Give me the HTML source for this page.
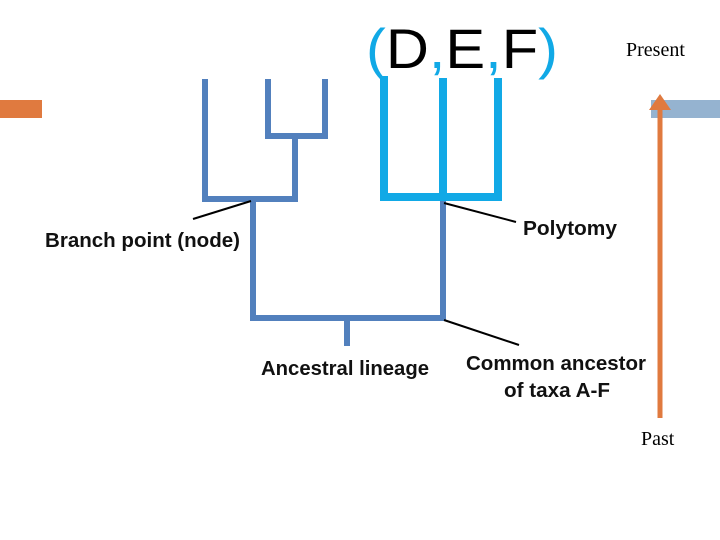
<!DOCTYPE html>
<html><head><style>body{margin:0;background:#fff}svg{display:block}</style></head>
<body>
<svg width="720" height="540" xmlns="http://www.w3.org/2000/svg">
<rect x="0" y="100" width="42" height="18" fill="#e07a3f"/>
<rect x="651" y="100" width="69" height="18" fill="#95b3d0"/>
<g fill="none" stroke="#5280bd" stroke-width="6" stroke-linecap="square">
<path d="M205 82V199H295V139"/>
<path d="M268 82V136H325V82"/>
<path d="M253 202V318H443V203"/>
<path d="M347 321V343"/>
</g>
<g fill="none" stroke="#11a9e6" stroke-width="8" stroke-linecap="square">
<path d="M384 80V197H498V82"/>
<path d="M443 82V197"/>
</g>
<g stroke="#000" stroke-width="2">
<line x1="193" y1="219" x2="251" y2="201"/>
<line x1="444" y1="203" x2="516" y2="222"/>
<line x1="444" y1="320" x2="519" y2="345"/>
</g>
<line x1="660" y1="418" x2="660" y2="104" stroke="#e07a3f" stroke-width="5"/>
<path d="M649 110L660 94L671 110Z" fill="#e07a3f"/>
<g font-family="Liberation Sans, sans-serif" font-weight="bold" font-size="20" fill="#111">
<text x="45" y="247" textLength="195" lengthAdjust="spacingAndGlyphs">Branch point (node)</text>
<text x="523" y="235" textLength="94" lengthAdjust="spacingAndGlyphs">Polytomy</text>
<text x="261" y="375" textLength="168" lengthAdjust="spacingAndGlyphs">Ancestral lineage</text>
<text x="466" y="370" textLength="180" lengthAdjust="spacingAndGlyphs">Common ancestor</text>
<text x="504" y="397" textLength="106" lengthAdjust="spacingAndGlyphs">of taxa A-F</text>
</g>
<text x="366" y="68" font-family="Liberation Sans, sans-serif" font-size="56" textLength="192" lengthAdjust="spacingAndGlyphs"><tspan fill="#11a9e6">(</tspan>D<tspan fill="#11a9e6">,</tspan>E<tspan fill="#11a9e6">,</tspan>F<tspan fill="#11a9e6">)</tspan></text>
<text x="626" y="56" font-family="Liberation Serif, serif" font-size="20">Present</text>
<text x="641" y="445" font-family="Liberation Serif, serif" font-size="20">Past</text>
</svg>
</body></html>
